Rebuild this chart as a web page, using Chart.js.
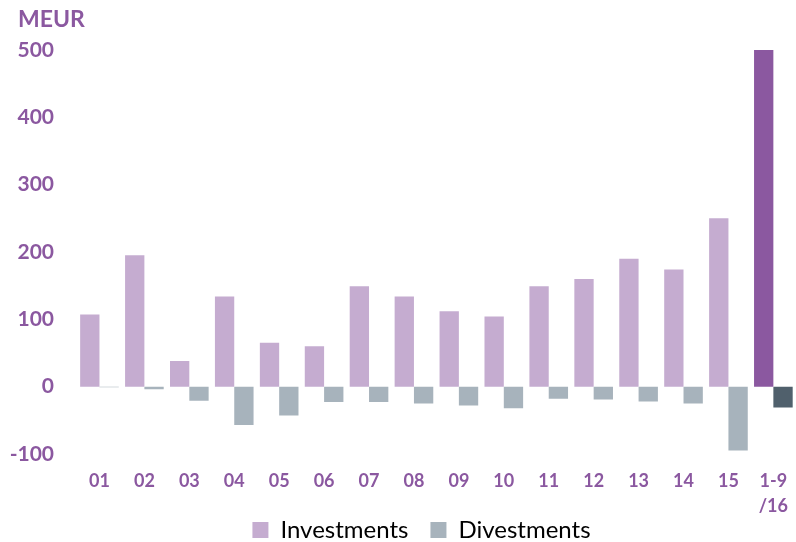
<!DOCTYPE html>
<html lang="en">
<head>
    <meta charset="UTF-8">
    <title>Investments and Divestments</title>
    <style>
        html, body {
            margin: 0;
            padding: 0;
            background: #fff;
            overflow: hidden;
        }
        #chart {
            display: block;
        }
    </style>
</head>
<body>
    <canvas id="chart" width="803" height="542"></canvas>

    <script src="https://cdn.jsdelivr.net/npm/chart.js"></script>
    <script>
        // data (MEUR)
        const categories = ['01', '02', '03', '04', '05', '06', '07', '08', '09', '10', '11', '12', '13', '14', '15', ['1-9', '/16']];
        const investments = [107, 195, 38, 134, 65, 60, 149, 134, 112, 104, 149, 160, 190, 174, 250, 500];
        const divestments = [-1, -4, -21, -57, -43, -23, -23, -25, -28, -32, -18, -19, -22, -25, -95, -31];
        const yTicks = [-100, 0, 100, 200, 300, 400, 500];
        const unitLabel = 'MEUR';

        const purple = '#8B58A0';
        const invColors = investments.map((v, i) => i === investments.length - 1 ? '#8B58A0' : '#C5ACD0');
        const divColors = divestments.map((v, i) => i === divestments.length - 1 ? '#50606C' : '#A7B3BC');

        // unit label top left + nudge the legend to where the original has it
        const extrasPlugin = {
            id: 'extras',
            beforeDraw(chart) {
                if (chart.legend) {
                    chart.legend.left = 40;
                    chart.legend.top = 496;
                }
            },
            afterDraw(chart) {
                const ctx = chart.ctx;
                ctx.save();
                ctx.fillStyle = purple;
                ctx.font = 'bold 23px Lato';
                ctx.textAlign = 'left';
                ctx.textBaseline = 'middle';
                ctx.fillText(unitLabel, 18, 20);
                ctx.restore();
            }
        };

        new Chart(document.getElementById('chart'), {
            type: 'bar',
            data: {
                labels: categories,
                datasets: [{
                    label: 'Investments',
                    data: investments,
                    backgroundColor: invColors
                }, {
                    label: 'Divestments',
                    data: divestments,
                    backgroundColor: divColors
                }]
            },
            options: {
                responsive: false,
                animation: false,
                categoryPercentage: 0.86,
                barPercentage: 1.0,
                layout: {
                    padding: { left: 0, right: 0, top: 50, bottom: -48 }
                },
                plugins: {
                    legend: {
                        position: 'bottom',
                        labels: {
                            color: '#000',
                            font: { family: 'Lato', size: 24 },
                            boxWidth: 16,
                            boxHeight: 16,
                            padding: 22
                        }
                    },
                    tooltip: { enabled: false }
                },
                scales: {
                    x: {
                        grid: { display: false, drawTicks: false },
                        border: { display: false },
                        ticks: {
                            color: purple,
                            font: { family: 'Lato', size: 18, weight: 'bold', lineHeight: 1.39 },
                            padding: 15,
                            maxRotation: 0
                        }
                    },
                    y: {
                        min: -100,
                        max: 500,
                        afterFit: function(axis) { axis.width = 77; },
                        afterBuildTicks: function(axis) {
                            axis.ticks = yTicks.map(v => ({ value: v }));
                        },
                        grid: { display: false, drawTicks: false },
                        border: { display: false },
                        ticks: {
                            color: purple,
                            font: { family: 'Lato', size: 21, weight: 'bold' },
                            padding: 23
                        }
                    }
                }
            },
            plugins: [extrasPlugin]
        });
    </script>
</body>
</html>
